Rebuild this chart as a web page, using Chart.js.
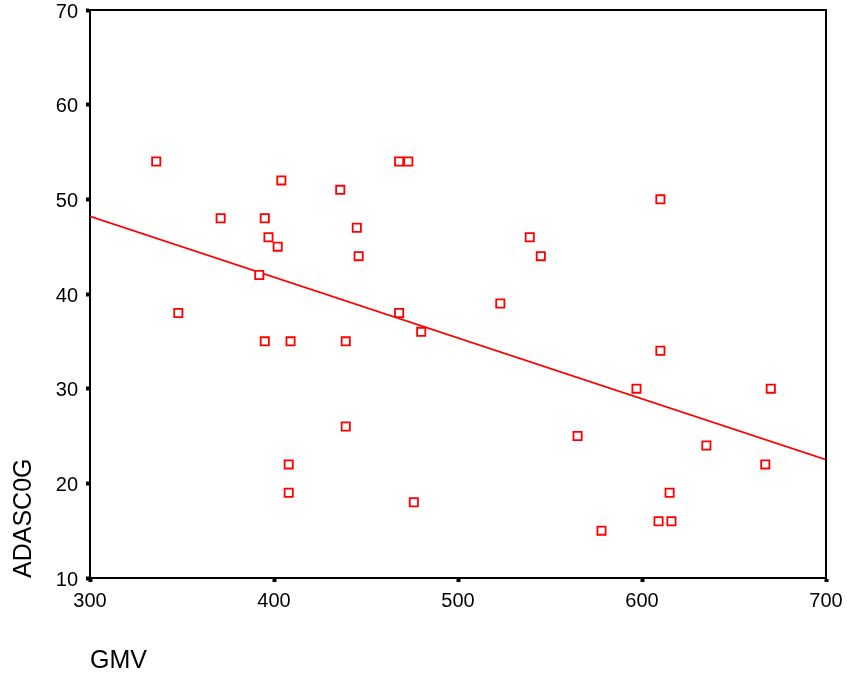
<!DOCTYPE html>
<html>
<head>
<meta charset="utf-8">
<script src="https://cdn.jsdelivr.net/npm/chart.js@4/dist/chart.umd.min.js"></script>
<style>
html,body{margin:0;padding:0;background:#fff;}
#wrap{width:847px;height:679px;position:relative;}
</style>
</head>
<body>
<div id="wrap"><canvas id="c" width="847" height="679"></canvas></div>
<script>
// Data (GMV vs ADASC0G)
const gmv = [336, 348, 371, 392, 395, 395, 397, 402, 404, 408, 408, 409, 436, 439, 439, 445, 446, 468, 473, 468, 476, 480, 523, 539, 545, 565, 578, 597, 609, 610, 610, 615, 616, 635, 667, 670];
const adas = [54, 38, 48, 42, 48, 35, 46, 45, 52, 22, 19, 35, 51, 35, 26, 47, 44, 54, 54, 38, 18, 36, 39, 46, 44, 25, 15, 30, 16, 50, 34, 19, 16, 24, 22, 30];
const fitX = [300, 700];
const fitY = [48.2, 22.5];
const xTicks = [300, 400, 500, 600, 700];
const yTicks = [10, 20, 30, 40, 50, 60, 70];

const points = gmv.map((x, i) => ({x: x, y: adas[i]}));
const fitLine = fitX.map((x, i) => ({x: x, y: fitY[i]}));

const FONT = "'Liberation Sans', Arial, sans-serif";

const frame = {
  id: 'frame',
  afterDraw(chart) {
    const {ctx, chartArea: a} = chart;
    ctx.save();
    ctx.strokeStyle = '#000';
    ctx.lineWidth = 2;
    ctx.beginPath();
    ctx.moveTo(a.left, a.top);
    ctx.lineTo(a.right, a.top);
    ctx.lineTo(a.right, a.bottom);
    ctx.stroke();
    ctx.restore();
  }
};

new Chart(document.getElementById('c'), {
  type: 'scatter',
  data: {
    datasets: [
      {
        label: 'ADASC0G',
        data: points,
        pointStyle: 'rect',
        pointRadius: 5.8,
        pointBorderWidth: 1.8,
        pointBorderColor: '#ff0000',
        pointBackgroundColor: '#ffffff',
        showLine: false,
        order: 1
      },
      {
        label: 'Fit',
        data: fitLine,
        type: 'line',
        showLine: true,
        borderColor: '#ff0000',
        borderWidth: 1.6,
        pointRadius: 0,
        fill: false,
        order: 2
      }
    ]
  },
  options: {
    responsive: false,
    animation: false,
    events: [],
    layout: {padding: {top: 10, right: 21, left: 0, bottom: 0}},
    plugins: {legend: {display: false}, tooltip: {enabled: false}},
    scales: {
      x: {
        type: 'linear',
        min: 300, max: 700,
        afterBuildTicks(s) { s.ticks = xTicks.map(v => ({value: v})); },
        afterFit(s) { s.height = 101; s.paddingLeft = 0; s.paddingRight = 0; },
        ticks: {color: '#000', font: {family: FONT, size: 20}, padding: 7},
        grid: {drawOnChartArea: false, tickLength: 4, tickWidth: 4, tickColor: '#000'},
        border: {display: true, color: '#000', width: 2},
        title: {display: true, text: 'GMV', align: 'start', color: '#000', font: {family: FONT, size: 25}, padding: {top: 3, bottom: 3}}
      },
      y: {
        type: 'linear',
        min: 10, max: 70,
        afterBuildTicks(s) { s.ticks = yTicks.map(v => ({value: v})); },
        afterFit(s) { s.width = 90; s.paddingTop = 0; s.paddingBottom = 0; },
        ticks: {color: '#000', font: {family: FONT, size: 20}, padding: 8, labelOffset: 2},
        grid: {drawOnChartArea: false, tickLength: 4, tickWidth: 4, tickColor: '#000'},
        border: {display: true, color: '#000', width: 2},
        title: {display: true, text: 'ADASC0G', align: 'start', color: '#000', font: {family: FONT, size: 25}, padding: {top: 9, bottom: 0}}
      }
    }
  },
  plugins: [frame]
});
</script>
</body>
</html>
